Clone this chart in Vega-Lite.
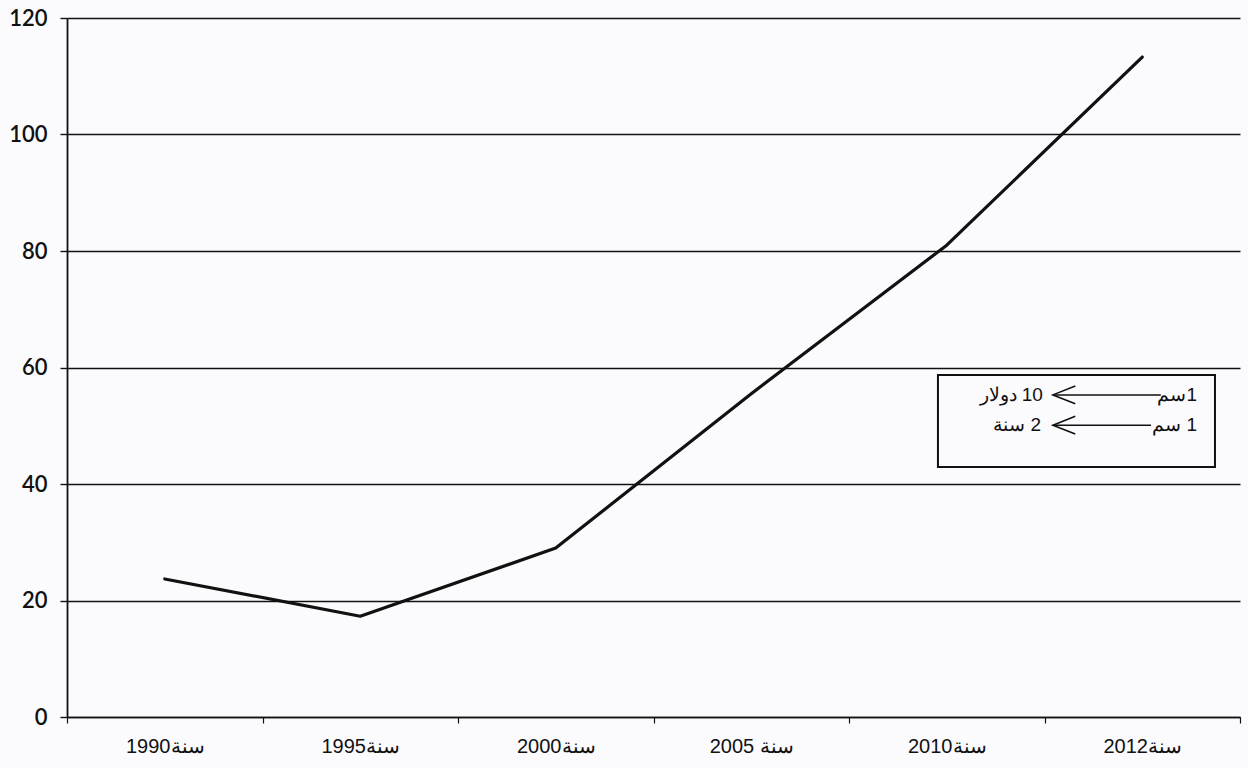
{
  "$schema": "https://vega.github.io/schema/vega-lite/v6.json",
  "width": 1173,
  "height": 699,
  "autosize": "none",
  "padding": {"left": 67, "top": 18, "right": 8, "bottom": 51},
  "background": "#fbfafd",
  "config": {"view": {"stroke": null}},
  "layer": [
    {
      "data": {"values": [
        {"year": "1990سنة", "value": 23.7},
        {"year": "1995سنة", "value": 17.3},
        {"year": "2000سنة", "value": 29.0},
        {"year": "2005 سنة", "value": 55.5},
        {"year": "2010سنة", "value": 81.0},
        {"year": "2012سنة", "value": 113.3}
      ]},
      "mark": {"type": "line", "color": "#111111", "strokeWidth": 3.2, "strokeJoin": "round", "strokeCap": "round"},
      "encoding": {
        "x": {
          "field": "year", "type": "nominal", "sort": null, "bandPosition": 0.5,
          "scale": {"type": "band", "paddingInner": 0, "paddingOuter": 0},
          "axis": {
            "title": null, "labelAngle": 0, "grid": false,
            "domainColor": "#111111", "domainWidth": 1.5,
            "tickColor": "#111111", "tickSize": 6, "tickWidth": 1.2, "tickBand": "extent",
            "labelFont": "Liberation Sans", "labelFontSize": 20, "labelColor": "#111111", "labelPadding": 13
          }
        },
        "y": {
          "field": "value", "type": "quantitative",
          "scale": {"domain": [0, 120], "nice": false, "zero": true},
          "axis": {
            "title": null, "values": [0, 20, 40, 60, 80, 100, 120],
            "grid": true, "gridColor": "#111111", "gridWidth": 1.4, "gridOpacity": 1,
            "domainColor": "#111111", "domainWidth": 1.8,
            "tickColor": "#111111", "tickSize": 7, "tickWidth": 1.4,
            "labelFont": "Lato", "labelFontSize": 22, "labelFontWeight": 600, "labelColor": "#111111", "labelPadding": 13
          }
        }
      }
    },
    {
      "layer": [
        {
          "data": {"values": [{"x1": 4.455, "x2": 5.872, "y1": 58.7, "y2": 42.9}]},
          "mark": {"type": "rect", "fill": "#fbfafd", "stroke": "#111111", "strokeWidth": 2},
          "encoding": {
            "x": {"field": "x1", "type": "quantitative", "scale": {"domain": [0, 6], "nice": false, "zero": true}, "axis": null},
            "x2": {"field": "x2"},
            "y": {"field": "y1", "type": "quantitative"},
            "y2": {"field": "y2"}
          }
        },
        {
          "data": {"values": [
            {"x1": 5.043, "x2": 5.595, "y": 55.3},
            {"x1": 5.043, "x2": 5.545, "y": 50.1}
          ]},
          "mark": {"type": "rule", "color": "#111111", "strokeWidth": 1.5},
          "encoding": {
            "x": {"field": "x1", "type": "quantitative", "scale": {"domain": [0, 6], "nice": false, "zero": true}, "axis": null},
            "x2": {"field": "x2"},
            "y": {"field": "y", "type": "quantitative"}
          }
        },
        {
          "data": {"values": [
            {"x": 5.043, "y": 55.3},
            {"x": 5.043, "y": 50.1}
          ]},
          "mark": {"type": "point", "shape": "M2,-0.8L0,0L2,0.8", "filled": false, "size": 500, "stroke": "#111111", "strokeWidth": 1.6, "opacity": 1},
          "encoding": {
            "x": {"field": "x", "type": "quantitative", "scale": {"domain": [0, 6], "nice": false, "zero": true}, "axis": null},
            "y": {"field": "y", "type": "quantitative"}
          }
        },
        {
          "data": {"values": [
            {"label": "‫10 دولار‬", "x": 4.992, "y": 55.3},
            {"label": "‫2 سنة‬", "x": 4.982, "y": 50.1},
            {"label": "‫1سم‬", "x": 5.78, "y": 55.3},
            {"label": "‫1 سم‬", "x": 5.78, "y": 50.1}
          ]},
          "mark": {"type": "text", "align": "right", "baseline": "middle", "font": "Liberation Sans", "fontSize": 19, "color": "#111111"},
          "encoding": {
            "x": {"field": "x", "type": "quantitative", "scale": {"domain": [0, 6], "nice": false, "zero": true}, "axis": null},
            "y": {"field": "y", "type": "quantitative"},
            "text": {"field": "label"}
          }
        }
      ]
    }
  ],
  "resolve": {"scale": {"x": "independent"}, "axis": {"x": "independent"}}
}
